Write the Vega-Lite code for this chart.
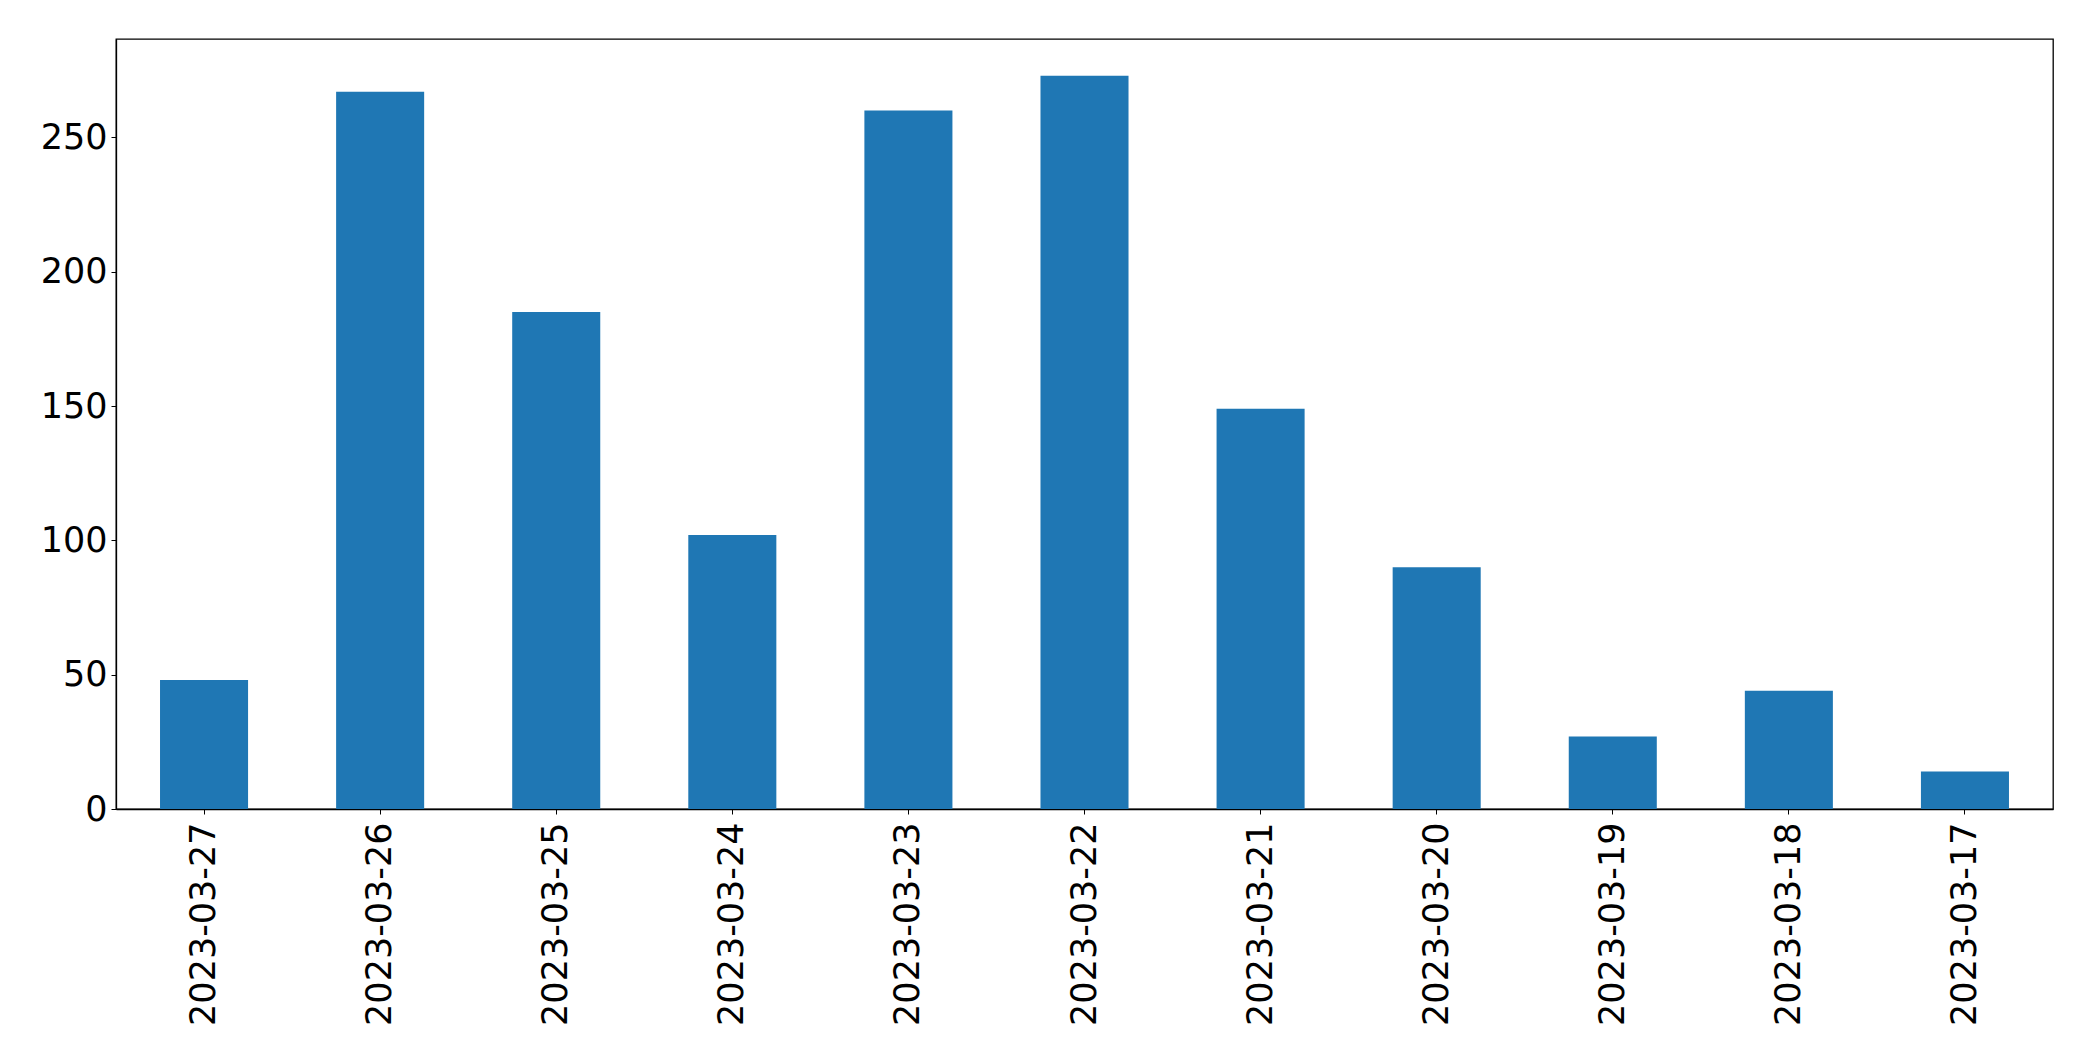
{
  "$schema": "https://vega.github.io/schema/vega-lite/v6.json",
  "autosize": {"type": "none"},
  "padding": {"left": 116, "top": 39, "right": 40, "bottom": 252},
  "width": 1937,
  "height": 770,
  "background": "white",
  "data": {
    "values": [
      {"date": "2023-03-27", "count": 48},
      {"date": "2023-03-26", "count": 267},
      {"date": "2023-03-25", "count": 185},
      {"date": "2023-03-24", "count": 102},
      {"date": "2023-03-23", "count": 260},
      {"date": "2023-03-22", "count": 273},
      {"date": "2023-03-21", "count": 149},
      {"date": "2023-03-20", "count": 90},
      {"date": "2023-03-19", "count": 27},
      {"date": "2023-03-18", "count": 44},
      {"date": "2023-03-17", "count": 14}
    ]
  },
  "mark": {"type": "bar", "color": "#1f77b4"},
  "encoding": {
    "x": {
      "field": "date",
      "type": "nominal",
      "sort": null,
      "scale": {"paddingInner": 0.5, "paddingOuter": 0.25},
      "axis": {
        "title": null,
        "labelAngle": 270,
        "labelAlign": "right",
        "labelBaseline": "middle",
        "labelFont": "DejaVu Sans",
        "labelFontSize": 35,
        "labelColor": "black",
        "labelPadding": 8,
        "labelLimit": 0,
        "tickSize": 5,
        "tickColor": "black",
        "domainColor": "black",
        "domainWidth": 1.3,
        "labelOverlap": false,
        "labelBound": false,
        "labelFlush": false
      }
    },
    "y": {
      "field": "count",
      "type": "quantitative",
      "scale": {"domain": [0, 286.65], "nice": false, "zero": true},
      "axis": {
        "title": null,
        "values": [0, 50, 100, 150, 200, 250],
        "grid": false,
        "labelFont": "DejaVu Sans",
        "labelFontSize": 35,
        "labelColor": "black",
        "labelPadding": 4,
        "labelLimit": 0,
        "tickSize": 5,
        "tickColor": "black",
        "domainColor": "black",
        "domainWidth": 1.3,
        "labelFlush": false,
        "labelOverlap": false,
        "labelBound": false
      }
    }
  },
  "config": {
    "view": {"stroke": "black", "strokeWidth": 1.3}
  }
}
